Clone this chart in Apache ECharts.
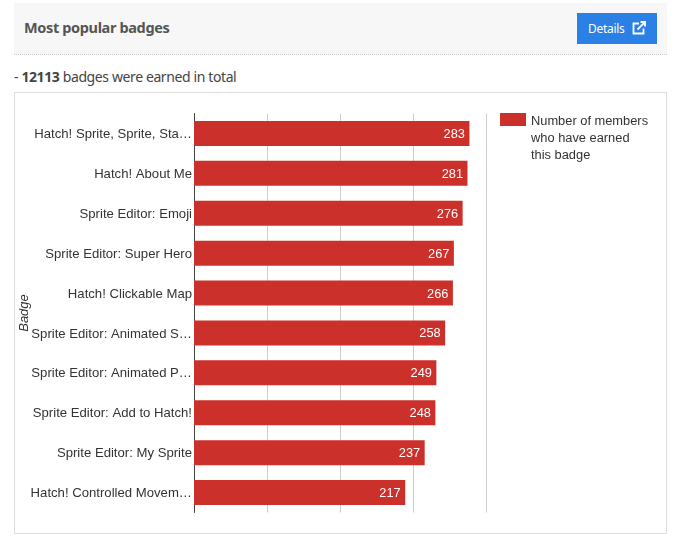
<!DOCTYPE html>
<html><head><meta charset="utf-8">
<style>
html,body{margin:0;padding:0;background:#fff;width:678px;height:541px;overflow:hidden}
#head{position:absolute;left:14px;top:3px;width:653px;height:51px;background:#f7f7f7;border-bottom:1px dotted #ccc;box-sizing:content-box}
#title{position:absolute;left:10px;top:14px;font:bold 14.5px/20px "Noto Sans";color:#555;letter-spacing:-.36px}
#btn{position:absolute;left:563px;top:10px;width:80px;height:31px;background:#2a80e4;color:#fff;font:12px/31px "Noto Sans";letter-spacing:-.3px}
#btn span{position:absolute;left:11px;top:0}
#btn svg{position:absolute;left:55px;top:8px}
#total{position:absolute;left:14px;top:67px;font:14px/20px "Noto Sans";color:#444;letter-spacing:-.39px}
#box{position:absolute;left:14px;top:92px;width:653px;height:442px;border:1px solid #ddd;box-sizing:border-box}
#chart{position:absolute;left:0;top:0;width:678px;height:541px}
</style></head><body>
<div id="head"><div id="title">Most popular badges</div>
<div id="btn"><span>Details</span><svg width="14" height="14" viewBox="0 0 14 14" fill="none" stroke="#fff" stroke-width="1.8"><path d="M7 2.5H1.5V12.5H11.5V7.5"/><path d="M5.5 8.5L12.5 1.5"/><path d="M8.5 1H13V5.5"/></svg></div></div>
<div id="total">- <b>12113</b> badges were earned in total</div>
<div id="box"></div>
<div id="chart"></div>
<script src="https://cdn.jsdelivr.net/npm/echarts@6/dist/echarts.min.js"></script>
<script>
const categories = ["Hatch! Sprite, Sprite, Sta…","Hatch! About Me","Sprite Editor: Emoji","Sprite Editor: Super Hero","Hatch! Clickable Map","Sprite Editor: Animated S…","Sprite Editor: Animated P…","Sprite Editor: Add to Hatch!","Sprite Editor: My Sprite","Hatch! Controlled Movem…"];
const members = [283,281,276,267,266,258,249,248,237,217];
const seriesName = "Number of members\nwho have earned\nthis badge";
const axisName = "Badge";
const font = "Liberation Sans";
const chart = echarts.init(document.getElementById('chart'), null, {renderer:'canvas'});
chart.setOption({
  animation:false,
  textStyle:{fontFamily:font},
  grid:{left:194,top:113.5,width:292,height:399,containLabel:false},
  legend:{left:500,top:75.5,orient:'vertical',itemWidth:26,itemHeight:13,itemGap:0,padding:0,selectedMode:false,
    formatter:n=>'{s|}\n{s|}\n'+n.split('\n').map(l=>'{n|'+l+'}').join('\n'),
    textStyle:{fontFamily:font,fontSize:12.85,color:'#333',lineHeight:17,
      rich:{s:{lineHeight:18.5,height:18.5,fontSize:12.85},n:{lineHeight:17,fontFamily:font,fontSize:12.85,color:'#333'}}},
    data:[{name:seriesName,icon:'rect'}]},
  xAxis:{type:'value',min:0,max:300,interval:75,axisLabel:{show:false},axisTick:{show:false},axisLine:{show:false},
    splitLine:{lineStyle:{color:'#ccc',width:1}}},
  yAxis:{type:'category',inverse:true,data:categories,axisTick:{show:false},
    axisLine:{lineStyle:{color:'#444',width:1}},
    axisLabel:{color:'#333',fontSize:13.15,fontFamily:font,margin:2,verticalAlign:'top',lineHeight:2},
    name:axisName,nameLocation:'middle',nameGap:163,nameRotate:90,nameMoveOverlap:false,
    nameTextStyle:{fontStyle:'italic',fontSize:13,color:'#333',fontFamily:font}},
  series:[{name:seriesName,type:'bar',data:members,barWidth:25,itemStyle:{color:'#cb302b'},
    label:{show:true,position:'insideRight',distance:4.5,offset:[0,1],color:'#fff',fontSize:12.8,fontFamily:font}}]
});
</script></body></html>
